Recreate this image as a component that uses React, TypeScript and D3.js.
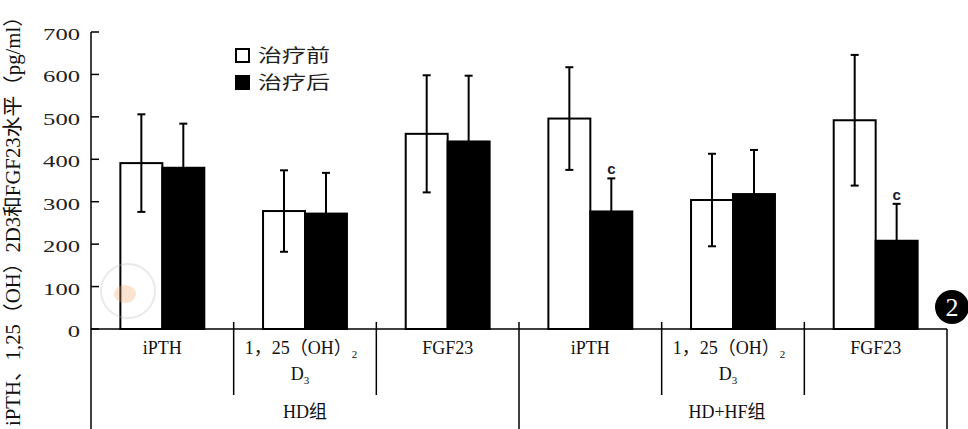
import React from "react";
import * as d3 from "d3";

const groups = ["HD组", "HD+HF组"];
const markers = ["iPTH", "D3", "FGF23"];
const categories = ["HD-iPTH", "HD-D3", "HD-FGF23", "HF-iPTH", "HF-D3", "HF-FGF23"];
const seriesNames = ["治疗前", "治疗后"];
const beforeValues = [391, 278, 460, 496, 304, 492];
const beforeErrors = [115, 96, 138, 121, 109, 154];
const afterValues = [380, 272, 442, 277, 318, 208];
const afterErrors = [104, 96, 155, 78, 104, 87];
const afterMarks = ["", "", "", "c", "", "c"];
const yTicks = [0, 100, 200, 300, 400, 500, 600, 700];
const yTitle = "iPTH、1,25（OH）2D3和FGF23水平（pg/ml）";

const W = 968;
const H = 429;
const serif = "'Liberation Serif', 'Times New Roman', serif";
const cjk = "'Liberation Serif', 'Noto Sans CJK SC', serif";

export default function App() {
  const y = d3.scaleLinear().domain([0, 700]).range([329, 32]);
  const x0 = d3.scaleBand().domain(categories).range([91, 947]).padding(0);
  const x1 = d3
    .scaleBand()
    .domain(seriesNames)
    .range([0, x0.bandwidth()])
    .paddingInner(0)
    .paddingOuter(0.7);
  const bw = x1.bandwidth();

  const bars = categories.flatMap((c, i) => [
    { c, i, s: seriesNames[0], v: beforeValues[i], e: beforeErrors[i], mark: "" },
    { c, i, s: seriesNames[1], v: afterValues[i], e: afterErrors[i], mark: afterMarks[i] },
  ]);

  const groupCenter = (g: number) => {
    const a = x0(categories[g * 3])!;
    const b = x0(categories[g * 3 + 2])! + x0.bandwidth();
    return (a + b) / 2;
  };

  return (
    <svg
      width={W}
      height={H}
      style={{ position: "absolute", left: 0, top: 0, background: "#fff" }}
    >
      {/* y axis title */}
      <text
        transform={`translate(20, 216) rotate(-90)`}
        textAnchor="middle"
        fontFamily={cjk}
        fontSize={20}
        fill="#111"
        textLength={420}
        lengthAdjust="spacingAndGlyphs"
      >
        {yTitle}
      </text>

      {/* y axis */}
      <line x1={91} x2={91} y1={y(700)} y2={H} stroke="#000" strokeWidth={1.5} />
      {yTicks.map((t) => (
        <g key={t}>
          <line x1={91} x2={99} y1={y(t)} y2={y(t)} stroke="#000" strokeWidth={1.5} />
          <text
            x={80}
            y={y(t) + 8}
            textAnchor="end"
            fontFamily={serif}
            fontSize={17}
            fill="#222"
            textLength={12.3 * String(t).length}
            lengthAdjust="spacingAndGlyphs"
          >
            {t}
          </text>
        </g>
      ))}

      {/* bars */}
      {bars.map((d, k) => {
        const bx = x0(d.c)! + x1(d.s)!;
        const cx = bx + bw / 2;
        const white = d.s === seriesNames[0];
        return (
          <g key={k}>
            <rect
              x={bx}
              y={y(d.v)}
              width={bw}
              height={y(0) - y(d.v)}
              fill={white ? "#fff" : "#000"}
              stroke="#000"
              strokeWidth={2}
            />
            <line x1={cx} x2={cx} y1={y(d.v + d.e)} y2={y(d.v - d.e)} stroke="#000" strokeWidth={2} />
            <line x1={cx - 4} x2={cx + 4} y1={y(d.v + d.e)} y2={y(d.v + d.e)} stroke="#000" strokeWidth={2} />
            {white && (
              <line x1={cx - 4} x2={cx + 4} y1={y(d.v - d.e)} y2={y(d.v - d.e)} stroke="#000" strokeWidth={2} />
            )}
            {d.mark && (
              <text
                x={cx}
                y={y(d.v + d.e) - 4}
                textAnchor="middle"
                fontFamily="'Liberation Sans', Arial, sans-serif"
                fontWeight="bold"
                fontSize={15}
                fill="#1a1a2e"
              >
                {d.mark}
              </text>
            )}
          </g>
        );
      })}

      {/* watermark */}
      <g opacity={0.3}>
        <circle cx={128} cy={291} r={27} fill="none" stroke="#b9b9b9" strokeWidth={2} />
        <ellipse cx={125} cy={294} rx={11} ry={9} fill="#f2a56e" />
      </g>

      {/* x axis */}
      <line x1={91} x2={947} y1={y(0)} y2={y(0)} stroke="#000" strokeWidth={1.5} />
      {categories.map((c, i) => {
        if (i === 0) return null;
        const xx = x0(c)!;
        const major = i === 3;
        return (
          <line key={c} x1={xx} x2={xx} y1={322} y2={major ? H : 395} stroke="#000" strokeWidth={1.5} />
        );
      })}
      <line x1={947} x2={947} y1={y(0)} y2={H} stroke="#000" strokeWidth={1.5} />

      {/* category labels */}
      {categories.map((c, i) => {
        const cx = x0(c)! + x0.bandwidth() / 2;
        const m = markers[i % 3];
        if (m === "D3") {
          return (
            <g key={c} fontFamily={cjk} fontSize={18} fill="#111">
              <text x={cx - 4} y={354} textAnchor="middle">
                1，25（OH）<tspan fontSize={11} dy={4}>2</tspan>
              </text>
              <text x={cx - 5} y={380} textAnchor="middle">
                D<tspan fontSize={11} dy={4}>3</tspan>
              </text>
            </g>
          );
        }
        return (
          <text key={c} x={cx} y={354} textAnchor="middle" fontFamily={serif} fontSize={18} fill="#111">
            {m}
          </text>
        );
      })}
      {groups.map((g, gi) => (
        <text
          key={g}
          x={groupCenter(gi) - (gi === 1 ? 6 : 0)}
          y={418}
          textAnchor="middle"
          fontFamily={cjk}
          fontSize={18}
          fill="#111"
        >
          {g}
        </text>
      ))}

      {/* legend */}
      {seriesNames.map((s, i) => (
        <g key={s} transform={`translate(235, ${48 + i * 27})`}>
          <rect
            x={1}
            y={1}
            width={13}
            height={13}
            fill={i === 0 ? "#fff" : "#000"}
            stroke="#000"
            strokeWidth={2}
          />
          <text
            x={23}
            y={14}
            fontFamily="'Noto Sans CJK SC', sans-serif"
            fontSize={18}
            fill="#222"
            textLength={72}
            lengthAdjust="spacingAndGlyphs"
          >
            {s}
          </text>
        </g>
      ))}

      {/* panel badge */}
      <circle cx={952} cy={307} r={17} fill="#000" />
      <text x={952} y={316} textAnchor="middle" fontFamily={serif} fontSize={26} fill="#fff">
        2
      </text>
    </svg>
  );
}
